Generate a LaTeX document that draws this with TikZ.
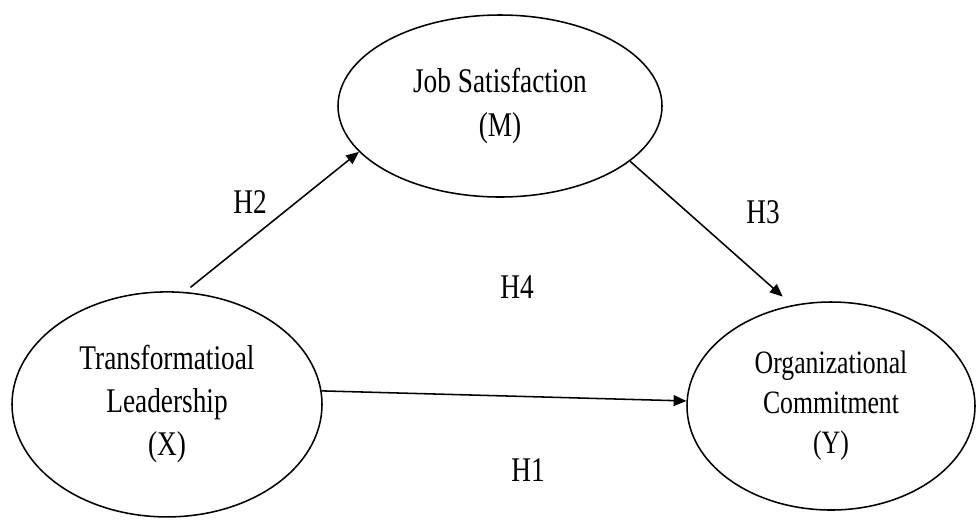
\documentclass[tikz,border=0pt]{standalone}
\usepackage{fontspec}
\setmainfont{Liberation Serif}[FakeStretch=0.79]
\usetikzlibrary{shapes.geometric, arrows.meta, positioning}

\begin{document}
\begin{tikzpicture}[
    construct/.style={ellipse, draw, line width=1.1pt, inner sep=0pt, align=center, font=\fontsize{24.6}{30.6}\selectfont},
    hyp/.style={inner sep=0pt, font=\fontsize{24.6}{30}\selectfont},
    arrow/.style={line width=1.1pt, -{Triangle[length=0.32cm, width=0.27cm]}}
]
    \useasboundingbox (0,0) rectangle (24.4,-12.975);

    \node[construct, minimum width=7.75cm, minimum height=5.625cm] (lead) at (4.175,-10.11) {Transformatioal\\Leadership\\(X)};
    \node[construct, minimum width=8.1cm, minimum height=4.55cm] (job) at (12.5,-2.65) {Job Satisfaction\\(M)};
    \node[construct, minimum width=7.2cm, minimum height=5.2cm, font=\fontsize{23.2}{28.5}\selectfont] (commit) at (20.775,-10.15) {Organizational\\Commitment\\(Y)};

    % Hypothesis labels
    \node[hyp] (h2) at (6.25,-5.05) {H2};
    \node[hyp] (h3) at (19.075,-5.3) {H3};
    \node[hyp] (h4) at (12.925,-7.175) {H4};
    \node[hyp] (h1) at (13.2,-11.75) {H1};

    % Arrows
    \draw[arrow, shorten <=0.18cm] (lead.81) -- (job.198);
    \draw[arrow, shorten >=0.32cm] (job.337) -- (commit.111);
    \draw[arrow] (lead.5) -- (commit.178);
\end{tikzpicture}
\end{document}
